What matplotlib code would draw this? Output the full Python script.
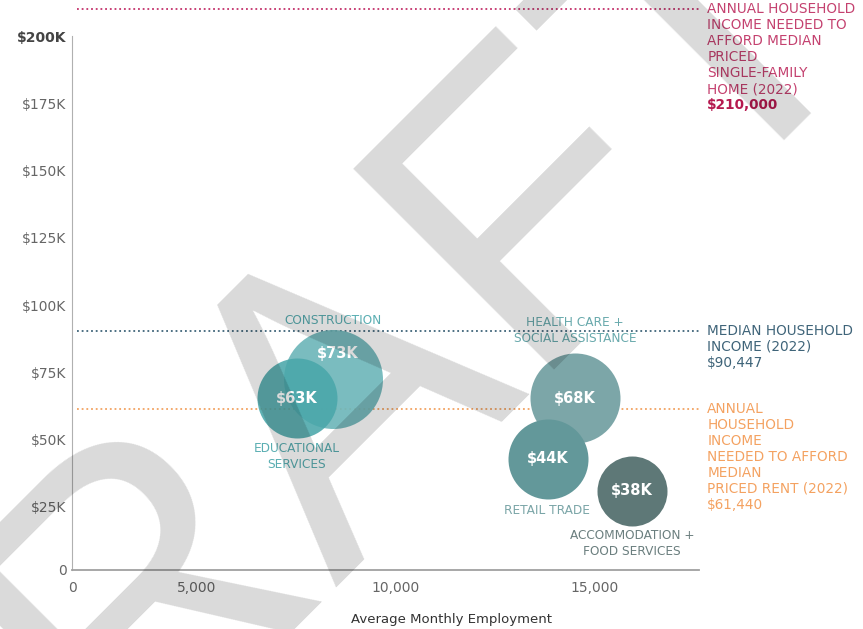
import matplotlib
matplotlib.use("Agg")
import matplotlib.pyplot as plt

# Data
industries = ["CONSTRUCTION", "EDUCATIONAL\nSERVICES", "HEALTH CARE +\nSOCIAL ASSISTANCE",
              "RETAIL TRADE", "ACCOMMODATION +\nFOOD SERVICES"]
employment = [8420, 7510, 14500, 13820, 15930]
wage_pos = [72500, 65400, 65400, 42800, 30900]
wage_labels = ["$73K", "$63K", "$68K", "$44K", "$38K"]
bubble_size = [49.5, 40, 45, 40, 35]

ref_values = [210000, 90447, 61440]
ref_text = [
    ["ANNUAL HOUSEHOLD", "INCOME NEEDED TO", "AFFORD MEDIAN", "PRICED",
     "SINGLE-FAMILY", "HOME (2022)", "$210,000"],
    ["MEDIAN HOUSEHOLD", "INCOME (2022)", "$90,447"],
    ["ANNUAL", "HOUSEHOLD", "INCOME", "NEEDED TO AFFORD", "MEDIAN",
     "PRICED RENT (2022)", "$61,440"],
]

y_ticks = [25000, 50000, 75000, 100000, 125000, 150000, 175000, 200000]
y_tick_labels = ["$25K", "$50K", "$75K", "$100K", "$125K", "$150K", "$175K", "$200K"]
x_ticks = [5000, 10000, 15000]
x_tick_labels = ["5,000", "10,000", "15,000"]

# Styles
bubble_colors = ["#6fb7ba", "#4aa7aa", "#7ca6a8", "#63989a", "#5e7877"]
bubble_alpha = [0.92, 0.88, 1.0, 1.0, 1.0]
label_colors = ["#5aaeb2", "#5aaeb2", "#68a9ac", "#7aa5a7", "#6b7f7f"]
label_offsets = [(0, 42), (0, -42), (0, 48.5), (-1, -37), (0, -38)]
value_offsets = [(3, 18), (0, 0), (0, 0), (0, 0), (0, 0)]
ref_colors = ["#c4326b", "#3f6479", "#f2a261"]
ref_text_colors = ["#c4416f", "#3f6479", "#f4a261"]

XMIN, XMAX = 1859, 17613
YMIN, YMAX = 1670, 213400

plt.rcParams['font.family'] = ['DejaVu Sans']

fig = plt.figure(figsize=(8.63, 6.29), dpi=100)
ax = fig.add_axes([72 / 863, 59.5 / 629, 627 / 863, 569.5 / 629])
ax.set_xlim(XMIN, XMAX)
ax.set_ylim(YMIN, YMAX)

# Reference lines + notes on the right
for i, val in enumerate(ref_values):
    ax.axhline(val, xmin=0.008, xmax=1, color=ref_colors[i], linestyle=(0, (1, 1.6)),
               linewidth=1.3, zorder=1)
    lines = ref_text[i]
    for j, line in enumerate(lines):
        bold = (j == len(lines) - 1 and i == 0)
        ax.annotate(line, xy=(1, val), xycoords=("axes fraction", "data"),
                    xytext=(6, -j * 11.5), textcoords="offset points",
                    ha="left", va="center", fontsize=9.8,
                    color="#b5194f" if bold else ref_text_colors[i],
                    fontweight="bold" if bold else "normal",
                    annotation_clip=False)

# Bubbles
for i in range(len(industries)):
    s = (2 * bubble_size[i] * 0.72) ** 2
    ax.scatter(employment[i], wage_pos[i], s=s, color=bubble_colors[i],
               alpha=bubble_alpha[i], linewidths=0, zorder=3 + i * 0.1)
    ax.annotate(wage_labels[i], xy=(employment[i], wage_pos[i]),
                xytext=value_offsets[i], textcoords="offset points",
                ha="center", va="center", fontsize=10.5, fontweight="bold",
                color="white", zorder=5)
    bbox = dict(facecolor="white", edgecolor="none", pad=1) if i == 0 else None
    ax.annotate(industries[i], xy=(employment[i], wage_pos[i]),
                xytext=label_offsets[i], textcoords="offset points",
                ha="center", va="center", fontsize=8.7, color=label_colors[i],
                linespacing=1.35, bbox=bbox, zorder=4)

# Axes styling
for side in ["top", "right"]:
    ax.spines[side].set_visible(False)
ax.spines["left"].set_color("#b0b0b0")
ax.spines["left"].set_bounds(YMIN, 200000)
ax.spines["bottom"].set_color("#a0a0a0")
ax.spines["bottom"].set_linewidth(1.3)

ax.set_yticks([YMIN] + y_ticks)
ax.set_yticklabels(["0"] + y_tick_labels)
ax.set_xticks([XMIN] + x_ticks)
ax.set_xticklabels(["0"] + x_tick_labels)
ax.tick_params(axis="both", length=0, labelsize=10, colors="#666666")
ax.tick_params(axis="y", pad=4)
ax.tick_params(axis="x", pad=8)
top_label = ax.get_yticklabels()[-1]
top_label.set_fontweight("bold")
top_label.set_color("#444444")

fig.text(451 / 863, 1 - 620 / 629, "Average Monthly Employment", ha="center",
         va="center", fontsize=9.5, color="#333333")

# DRAFT watermark
fig.text(391 / 863, 1 - 499 / 629, "DRAFT", fontsize=297, family="Liberation Sans",
         rotation=45, rotation_mode="anchor", ha="center", va="baseline",
         color="black", alpha=0.15, zorder=10)

fig.savefig("out.png", dpi=100)
